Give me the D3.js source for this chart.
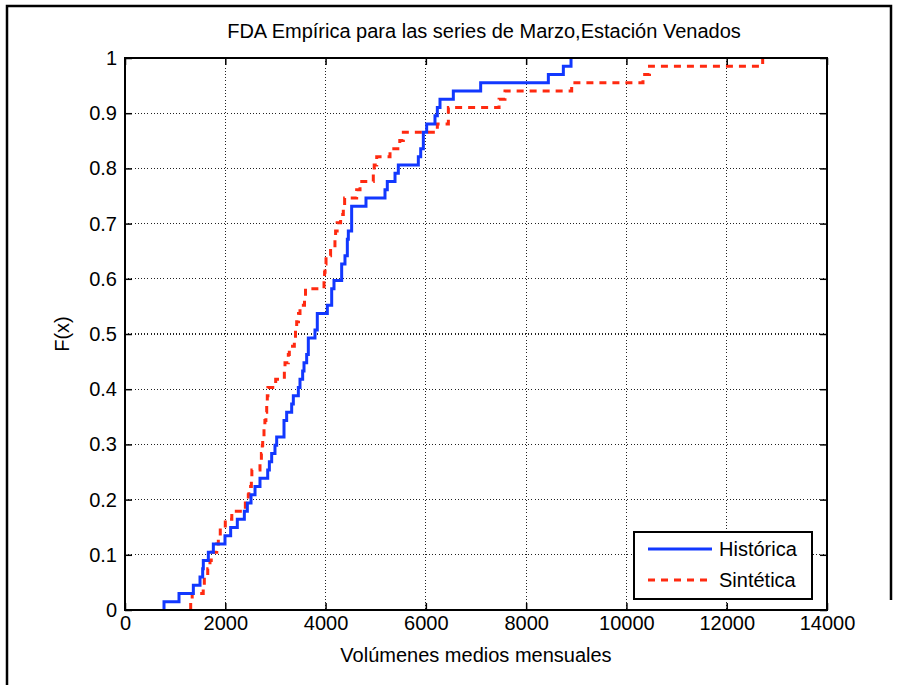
<!DOCTYPE html>
<html><head><meta charset="utf-8">
<script src="https://cdn.jsdelivr.net/npm/d3@7"></script>
<style>body{margin:0;background:#fff}</style>
</head><body>
<svg id="c" width="904" height="685" xmlns="http://www.w3.org/2000/svg"></svg>
<script>
// ---- data ----
const historica = [778, 1077, 1363, 1496, 1549, 1562, 1662, 1762, 1994, 2107, 2240, 2380, 2440, 2513, 2593, 2692, 2846, 2879,
  2925, 2991, 3025, 3171, 3171, 3224, 3324, 3357, 3457, 3490, 3543, 3570, 3623, 3656, 3656, 3789, 3835, 3835, 4035,
  4122, 4122, 4168, 4321, 4321, 4387, 4434, 4434, 4454, 4520, 4520, 4520, 4806, 5185, 5231, 5385, 5451,
  5850, 5897, 5950, 5950, 6016, 6182, 6229, 6282, 6548, 7093, 8443, 8742, 8895];
const sintetica = [1310, 1340, 1560, 1582, 1650, 1695, 1720, 1830, 1861, 1900,
  2000, 2130, 2400, 2459, 2470, 2520, 2530, 2692, 2720, 2738,
  2746, 2772, 2790, 2810, 2826, 2838, 2850, 3005, 3178, 3191,
  3257, 3277, 3377, 3400, 3424, 3460, 3490, 3580, 3600, 3969,
  3980, 3990, 4009, 4100, 4187, 4200, 4231, 4300, 4354, 4380,
  4620, 4687, 4952, 4970, 5020, 5285, 5480, 5551, 6229, 6449,
  6449, 7460, 7578, 8908, 10330, 10460, 12717];
const seriesNames = ["Histórica", "Sintética"];
const xTicks = [0, 2000, 4000, 6000, 8000, 10000, 12000, 14000];
const yTicks = [0, 0.1, 0.2, 0.3, 0.4, 0.5, 0.6, 0.7, 0.8, 0.9, 1];
const yTickLabels = ["0", "0.1", "0.2", "0.3", "0.4", "0.5", "0.6", "0.7", "0.8", "0.9", "1"];
const titleText = "FDA Empírica para las series de Marzo,Estación Venados";
const xLabelText = "Volúmenes medios mensuales";
const yLabelText = "F(x)";

// ---- layout ----
const FONT = "'Liberation Sans', Arial, Helvetica, sans-serif";
const FS = 20;
const P = {left: 125, right: 827, top: 58, bottom: 610};
const blue = "#1238ff", red = "#ff2a10";

const svg = d3.select("#c");
svg.append("rect").attr("width", 904).attr("height", 685).attr("fill", "#fff");
// figure frame
svg.append("path").attr("d", "M7,685 V6 H891 V600").attr("fill", "none").attr("stroke", "#000").attr("stroke-width", 2.5);

const x = d3.scaleLinear().domain([0, 14000]).range([P.left, P.right]);
const y = d3.scaleLinear().domain([0, 1]).range([P.bottom, P.top]);

// grid
const grid = svg.append("g");
grid.selectAll("line.gx").data(xTicks.slice(1, -1)).join("line")
  .attr("x1", d => x(d)).attr("x2", d => x(d)).attr("y1", P.top).attr("y2", P.bottom);
grid.selectAll("line.gy").data(yTicks.slice(1, -1)).join("line")
  .attr("y1", d => y(d)).attr("y2", d => y(d)).attr("x1", P.left).attr("x2", P.right);
grid.selectAll("line").attr("stroke", "#222").attr("stroke-width", 1.2).attr("stroke-dasharray", "1,2.2")
  .attr("shape-rendering", "crispEdges");

// ECDF series
function ecdf(vals) {
  const s = vals.slice().sort((a, b) => a - b), n = s.length;
  const pts = [[s[0], 0]];
  s.forEach((v, i) => pts.push([v, (i + 1) / n]));
  return pts;
}
const line = d3.line().x(d => x(d[0])).y(d => y(d[1])).curve(d3.curveStepAfter);
svg.append("path").datum(ecdf(sintetica)).attr("d", line).attr("fill", "none")
  .attr("stroke", red).attr("stroke-width", 3).attr("stroke-dasharray", "7,6");
svg.append("path").datum(ecdf(historica)).attr("d", line).attr("fill", "none")
  .attr("stroke", blue).attr("stroke-width", 3);

// axes
function styleAxis(g) {
  g.select(".domain").remove();
  g.selectAll(".tick line").attr("stroke", "#000").attr("stroke-width", 1.5);
  g.selectAll("text").attr("font-family", FONT).attr("font-size", FS).attr("fill", "#000");
}
svg.append("g").attr("transform", `translate(0,${P.bottom})`)
  .call(d3.axisBottom(x).tickValues(xTicks).tickFormat(d3.format("d")).tickSizeInner(-7).tickSizeOuter(0).tickPadding(6))
  .call(styleAxis);
svg.append("g").attr("transform", `translate(0,${P.top})`)
  .call(d3.axisTop(x).tickValues(xTicks).tickFormat("").tickSizeInner(-7).tickSizeOuter(0))
  .call(styleAxis);
svg.append("g").attr("transform", `translate(${P.left},0)`)
  .call(d3.axisLeft(y).tickValues(yTicks).tickFormat((d, i) => yTickLabels[i]).tickSizeInner(-7).tickSizeOuter(0).tickPadding(8))
  .call(styleAxis);
svg.append("g").attr("transform", `translate(${P.right},0)`)
  .call(d3.axisRight(y).tickValues(yTicks).tickFormat("").tickSizeInner(-7).tickSizeOuter(0))
  .call(styleAxis);

// box
svg.append("rect").attr("x", P.left).attr("y", P.top).attr("width", P.right - P.left).attr("height", P.bottom - P.top)
  .attr("fill", "none").attr("stroke", "#000").attr("stroke-width", 2);

// title & labels
svg.append("text").attr("x", (P.left + P.right) / 2 + 8).attr("y", 38).attr("text-anchor", "middle")
  .attr("font-family", FONT).attr("font-size", FS).text(titleText);
svg.append("text").attr("x", (P.left + P.right) / 2).attr("y", 662).attr("text-anchor", "middle")
  .attr("font-family", FONT).attr("font-size", FS).text(xLabelText);
svg.append("text").attr("transform", `translate(69,${(P.top + P.bottom) / 2}) rotate(-90)`).attr("text-anchor", "middle")
  .attr("font-family", FONT).attr("font-size", FS).text(yLabelText);

// legend
const L = {x: 634, y: 532, w: 178, h: 67};
const lg = svg.append("g");
lg.append("rect").attr("x", L.x).attr("y", L.y).attr("width", L.w).attr("height", L.h)
  .attr("fill", "#fff").attr("stroke", "#000").attr("stroke-width", 2);
const legendItems = [{name: seriesNames[0], color: blue, dash: null}, {name: seriesNames[1], color: red, dash: "7,6"}];
legendItems.forEach((it, i) => {
  const cy = L.y + 17 + i * 31;
  lg.append("line").attr("x1", L.x + 14).attr("x2", L.x + 78).attr("y1", cy).attr("y2", cy)
    .attr("stroke", it.color).attr("stroke-width", 3).attr("stroke-dasharray", it.dash);
  lg.append("text").attr("x", L.x + 85).attr("y", cy + 7).attr("font-family", FONT).attr("font-size", FS).text(it.name);
});
</script>
</body></html>
